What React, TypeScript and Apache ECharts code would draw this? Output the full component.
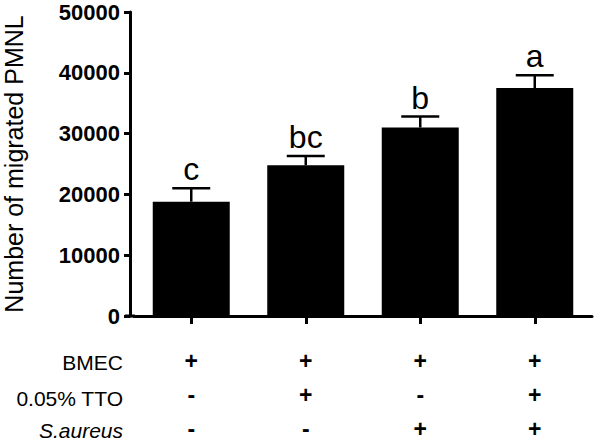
import React, { useEffect, useRef } from "react";
import * as echarts from "echarts";

const groups = ["G1", "G2", "G3", "G4"];
const means = [18800, 24800, 31000, 37500];
const sems = [2200, 1500, 1800, 2100];
const letters = ["c", "bc", "b", "a"];
const rowLabels = ["BMEC", "0.05% TTO", "S.aureus"];
const bmec = ["+", "+", "+", "+"];
const tto = ["-", "+", "-", "+"];
const saureus = ["-", "-", "+", "+"];
const yTicks = [0, 10000, 20000, 30000, 40000, 50000];

const FONT = "'Liberation Sans', Arial, Helvetica, sans-serif";

export default function App() {
  const ref = useRef<HTMLDivElement>(null);
  useEffect(() => {
    if (!ref.current) return;
    const chart = echarts.init(ref.current, undefined, { renderer: "svg" });
    const errData = means.map((m, i) => [i, m, m + sems[i]]);
    const option: any = {
      animation: false,
      backgroundColor: "#fff",
      grid: { left: 134, right: 4, top: 12, bottom: 126, outerBoundsMode: "none", containLabel: false },
      xAxis: {
        type: "category",
        data: groups,
        axisLine: { lineStyle: { color: "#000", width: 3 } },
        axisTick: { show: true, alignWithLabel: true, length: 8, lineStyle: { color: "#000", width: 3 } },
        axisLabel: {
          margin: 28,
          color: "#000",
          fontFamily: FONT,
          fontSize: 23,
          fontWeight: "bold",
          lineHeight: 34,
          formatter: (_v: string, i: number) => `${bmec[i]}\n${tto[i]}\n${saureus[i]}`,
        },
      },
      yAxis: {
        type: "value",
        min: yTicks[0],
        max: yTicks[yTicks.length - 1],
        interval: 10000,
        offset: 4,
        splitLine: { show: false },
        axisLine: { show: true, lineStyle: { color: "#000", width: 3 } },
        axisTick: { show: true, length: 6, lineStyle: { color: "#000", width: 3 } },
        axisLabel: {
          margin: 10,
          color: "#000",
          fontFamily: FONT,
          fontSize: 22,
          fontWeight: "bold",
          formatter: (v: number) => String(v),
        },
        name: "Number of migrated PMNL",
        nameLocation: "middle",
        nameGap: 104,
        nameTextStyle: { color: "#000", fontFamily: FONT, fontSize: 25 },
      },
      series: [
        {
          type: "bar",
          data: means,
          barWidth: 77,
          itemStyle: { color: "#000" },
        },
        {
          type: "custom",
          data: errData,
          encode: { x: 0, y: 2 },
          z: 5,
          renderItem: (params: any, api: any) => {
            const i = api.value(0);
            const top = api.coord([i, api.value(1)]);
            const err = api.coord([i, api.value(2)]);
            const x = top[0];
            const half = 19;
            return {
              type: "group",
              children: [
                { type: "line", shape: { x1: x, y1: top[1], x2: x, y2: err[1] }, style: { stroke: "#000", lineWidth: 2.5 } },
                { type: "line", shape: { x1: x - half, y1: err[1], x2: x + half, y2: err[1] }, style: { stroke: "#000", lineWidth: 2.5 } },
                {
                  type: "text",
                  x: x,
                  y: err[1] - 3,
                  style: {
                    text: letters[params.dataIndex],
                    fill: "#000",
                    fontSize: 32,
                    fontFamily: FONT,
                    align: "center",
                    verticalAlign: "bottom",
                  },
                },
              ],
            };
          },
        },
      ],
      graphic: [
        { type: "line", shape: { x1: 125, y1: 316, x2: 135, y2: 316 }, style: { stroke: "#000", lineWidth: 3 } },
        ...rowLabels.map((t, k) => ({
          type: "text",
          x: 123,
          y: [362, 398, 430][k],
          style: {
            text: t,
            fill: "#000",
            fontSize: 21,
            fontFamily: FONT,
            fontStyle: k === 2 ? "italic" : "normal",
            align: "right",
            verticalAlign: "middle",
          },
        })),
      ],
    };
    chart.setOption(option);
    return () => chart.dispose();
  }, []);
  return <div ref={ref} style={{ width: 596, height: 442, position: "absolute", left: 0, top: 0 }} />;
}
